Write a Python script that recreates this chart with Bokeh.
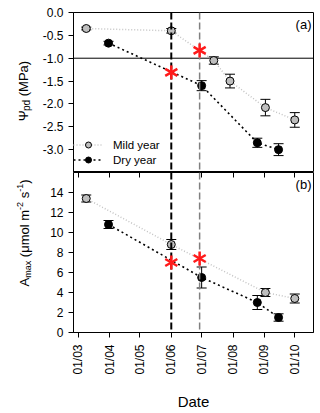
import math
from bokeh.plotting import figure
from bokeh.layouts import column, row
from bokeh.models import (Range1d, FixedTicker, LinearAxis, Span, Whisker, TeeHead,
                          ColumnDataSource, Label, Legend, LegendItem)
from bokeh.embed import file_html
from bokeh.resources import INLINE

FONT = "Liberation Sans"

# ---------------- data (x = day of year) ----------------
month_ticks = [60, 91, 121, 152, 182, 213, 244, 274]
month_labels = ["01/03", "01/04", "01/05", "01/06", "01/07", "01/08", "01/09", "01/10"]
x_start, x_end = 55.4, 292.5

psi_mild_day = [68, 152, 194, 210, 245, 274]
psi_mild = [-0.35, -0.40, -1.05, -1.50, -2.08, -2.35]
psi_mild_err = [0.03, 0.05, 0.08, 0.15, 0.18, 0.16]
psi_dry_day = [90, 182, 237, 258]
psi_dry = [-0.67, -1.60, -2.85, -3.00]
psi_dry_err = [0.04, 0.11, 0.10, 0.13]

amax_mild_day = [68, 152, 245, 274]
amax_mild = [13.4, 8.8, 4.0, 3.4]
amax_mild_err = [0.35, 0.5, 0.4, 0.45]
amax_dry_day = [90, 182, 237, 258]
amax_dry = [10.8, 5.5, 3.0, 1.5]
amax_dry_err = [0.4, 1.05, 0.7, 0.37]

star_day = [152, 180]
psi_star = [-1.31, -0.83]
amax_star = [7.0, 7.4]

dry_onset_day = 152
mild_onset_day = 180
psi_threshold = -1.0

psi_ticks = [0.0, -0.5, -1.0, -1.5, -2.0, -2.5, -3.0]
psi_tick_labels = ["0.0", "-0.5", "-1.0", "-1.5", "-2.0", "-2.5", "-3.0"]
psi_range = (-3.5, 0.0)
amax_ticks = [0, 2, 4, 6, 8, 10, 12, 14]
amax_tick_labels = ["0", "2", "4", "6", "8", "10", "12", "14"]
amax_range = (0, 16)

MILD_FILL = "#bebebe"
MILD_LINE = "#c4c4c4"

LAB_W = 37  # width of the column holding the y-axis titles

# Arial / Liberation Sans advance widths (em)
W = {"Ψ": 0.78, "p": 0.556, "d": 0.556, " ": 0.278, "(": 0.333, ")": 0.333, "M": 0.833,
     "P": 0.667, "a": 0.556, "A": 0.667, "m": 0.833, "x": 0.5, "μ": 0.576, "o": 0.556,
     "l": 0.222, "s": 0.5, "-": 0.333, "2": 0.556, "1": 0.556}


def tw(s, fs):
    return sum(W.get(c, 0.55) for c in s) * fs


def label_fig(h, pieces, base_sx, center_sy):
    p = figure(frame_width=LAB_W, frame_height=h, x_range=Range1d(0, 1), y_range=Range1d(0, 1),
               output_backend="svg", toolbar_location=None, x_axis_location=None,
               y_axis_location=None, min_border=0)
    p.outline_line_color = None
    p.xgrid.visible = False
    p.ygrid.visible = False
    total = sum(tw(t, fs) for t, fs, dx in pieces)
    sy = center_sy - total / 2
    for t, fs, dx in pieces:
        stripped = t.lstrip(" ")
        sy += tw(t[:len(t) - len(stripped)], fs)
        p.add_layout(Label(x=base_sx + dx, y=sy, x_units="screen", y_units="screen",
                           text=stripped, angle=math.pi / 2, text_align="left",
                           text_baseline="alphabetic", text_font=FONT,
                           text_font_size=f"{fs}px", text_color="black"))
        sy += tw(stripped, fs)
    return p


def base_fig(yr, yticks, ylabels, **kw):
    p = figure(frame_width=240, frame_height=160, x_range=Range1d(x_start, x_end),
               y_range=Range1d(*yr), output_backend="svg", toolbar_location=None,
               min_border_left=73 - LAB_W, min_border_right=1, **kw)
    p.xgrid.visible = False
    p.ygrid.visible = False
    p.outline_line_color = "black"
    p.outline_line_alpha = 1
    p.outline_line_width = 1
    p.background_fill_color = "white"
    p.border_fill_color = "white"
    ax = p.yaxis[0]
    ax.ticker = FixedTicker(ticks=yticks)
    ax.major_label_overrides = {float(t): l for t, l in zip(yticks, ylabels)}
    ax.major_tick_out = 5
    ax.major_tick_in = 0
    ax.minor_tick_out = 0
    ax.minor_tick_in = 0
    ax.major_label_standoff = 5
    ax.major_label_text_font = FONT
    ax.major_label_text_font_size = "12px"
    ax.major_label_text_color = "black"
    ax.axis_line_color = "black"
    ax.major_tick_line_color = "black"
    return p


def add_series(p, days, vals, errs, fill, line_color, dash, lw):
    src = ColumnDataSource(dict(x=days, y=vals,
                                upper=[v + e for v, e in zip(vals, errs)],
                                lower=[v - e for v, e in zip(vals, errs)]))
    ln = p.line("x", "y", source=src, line_color=line_color, line_dash=dash, line_width=lw)
    w = Whisker(source=src, base="x", upper="upper", lower="lower", dimension="height",
                line_color="black", line_width=1,
                upper_head=TeeHead(size=10, line_color="black", line_width=1),
                lower_head=TeeHead(size=10, line_color="black", line_width=1))
    w.level = "underlay"
    p.add_layout(w)
    sc = p.scatter("x", "y", source=src, size=8, fill_color=fill, line_color="black",
                   line_width=1)
    return ln, sc


def add_vlines(p):
    p.add_layout(Span(location=dry_onset_day, dimension="height", line_color="black",
                      line_width=2, line_dash="7 3"))
    p.add_layout(Span(location=mild_onset_day, dimension="height", line_color="#808080",
                      line_width=1.5, line_dash="7 3"))


def add_stars(p, days, vals):
    for ang in (math.pi / 2, math.pi / 6, -math.pi / 6):
        p.scatter(days, vals, marker="dash", angle=ang, size=14, line_color="#ff1a1a",
                  line_width=2.5, level="overlay")


# ---------------- top panel ----------------
p1 = base_fig(psi_range, psi_ticks, psi_tick_labels, x_axis_location=None,
              min_border_top=12, min_border_bottom=0)
p1.add_layout(Span(location=psi_threshold, dimension="width", line_color="black",
                   line_width=1, level="underlay"))
lm, sm = add_series(p1, psi_mild_day, psi_mild, psi_mild_err, MILD_FILL, MILD_LINE, "1 2", 1.5)
ld, sd = add_series(p1, psi_dry_day, psi_dry, psi_dry_err, "black", "black", "2 3", 1.6)
add_vlines(p1)
add_stars(p1, star_day, psi_star)

legend = Legend(items=[LegendItem(label="Mild year", renderers=[lm, sm]),
                       LegendItem(label="Dry year", renderers=[ld, sd])],
                location=(0, 5), padding=0, margin=0, spacing=0, glyph_width=30,
                glyph_height=15, label_height=12, label_standoff=10,
                label_text_font=FONT, label_text_font_size="11.5px",
                label_text_color="black", border_line_color=None,
                background_fill_alpha=0)
p1.add_layout(legend)
p1.add_layout(Label(x=238, y=156, x_units="screen", y_units="screen", text="(a)",
                    text_align="right", text_baseline="top", text_font=FONT,
                    text_font_size="13px", text_color="black"))
lab1 = label_fig(172, [("Ψ", 13, 0), ("pd", 10, 3), (" (MPa)", 13, 0)], 23, 172 - 78.5)

# ---------------- bottom panel ----------------
p2 = base_fig(amax_range, amax_ticks, amax_tick_labels, min_border_top=0,
              min_border_bottom=0)
xa = p2.xaxis[0]
xa.ticker = FixedTicker(ticks=month_ticks)
xa.major_label_overrides = {t: l for t, l in zip(month_ticks, month_labels)}
xa.major_label_orientation = math.pi / 2
xa.major_tick_out = 5
xa.major_tick_in = 0
xa.minor_tick_out = 0
xa.minor_tick_in = 0
xa.major_label_standoff = 7
xa.major_label_text_font = FONT
xa.major_label_text_font_size = "12px"
xa.major_label_text_color = "black"
xa.axis_label = "Date"
xa.axis_label_text_font = FONT
xa.axis_label_text_font_size = "15px"
xa.axis_label_text_font_style = "normal"
xa.axis_label_text_color = "black"
xa.axis_label_standoff = 15

top_ax = LinearAxis(ticker=FixedTicker(ticks=month_ticks), major_tick_in=5,
                    major_tick_out=0, minor_tick_in=0, minor_tick_out=0,
                    major_label_text_font_size="0px", major_label_standoff=0,
                    axis_line_color=None, major_tick_line_color="black",
                    fixed_location=amax_range[1])
top_ax.major_label_overrides = {t: "" for t in month_ticks}
p2.add_layout(top_ax, "above")

lm2, sm2 = add_series(p2, amax_mild_day, amax_mild, amax_mild_err, MILD_FILL, MILD_LINE, "1 2", 1.5)
ld2, sd2 = add_series(p2, amax_dry_day, amax_dry, amax_dry_err, "black", "black", "2 3", 1.6)
add_vlines(p2)
add_stars(p2, star_day, amax_star)
p2.add_layout(Label(x=238, y=156, x_units="screen", y_units="screen", text="(b)",
                    text_align="right", text_baseline="top", text_font=FONT,
                    text_font_size="13px", text_color="black"))
lab2 = label_fig(160, [("A", 13, 0), ("max", 9, 3), (" (μmol m", 13, 0), ("-2", 9, -5),
                       (" s", 13, 0), ("-1", 9, -5), (")", 13, 0)], 24, 332 - 232.5 - 172 + 172)

layout = column(row(lab1, p1, spacing=0), row(lab2, p2, spacing=0), spacing=0)
open("out.html", "w").write(file_html(layout, INLINE))
